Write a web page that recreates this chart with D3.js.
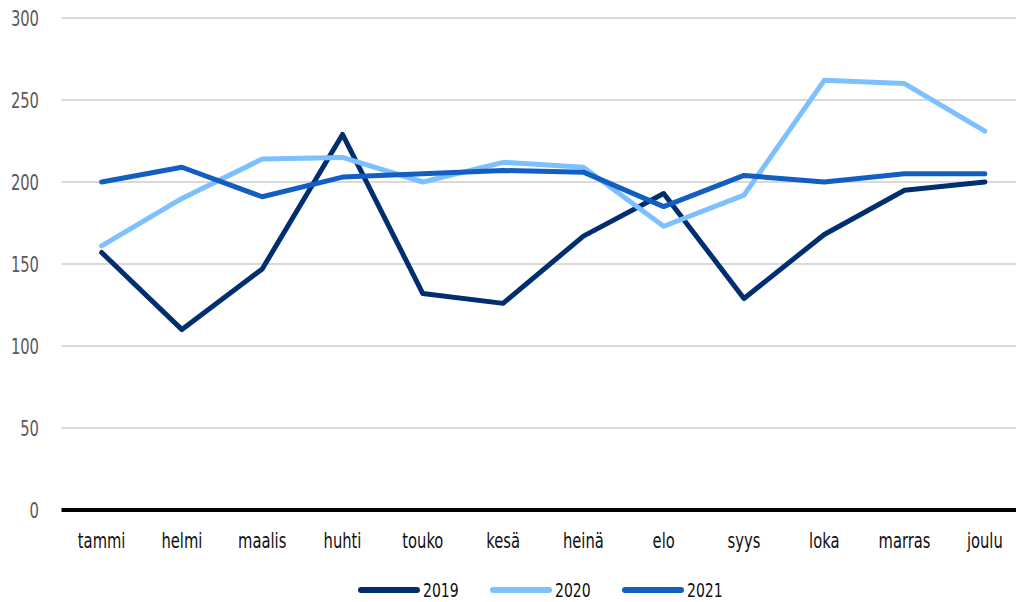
<!DOCTYPE html>
<html>
<head>
<meta charset="utf-8">
<script src="https://cdn.jsdelivr.net/npm/d3@7"></script>
<style>
  html, body { margin: 0; padding: 0; background: #fff; }
  svg { display: block; }
  text { font-family: "DejaVu Sans Condensed", "Liberation Sans Narrow", sans-serif; }
</style>
</head>
<body>
<svg id="chart" width="1016" height="602"></svg>
<script>
// Monthly values per year
const months = ["tammi", "helmi", "maalis", "huhti", "touko", "kesä", "heinä", "elo", "syys", "loka", "marras", "joulu"];
const years = ["2019", "2020", "2021"];
const values2019 = [157, 110, 147, 229, 132, 126, 167, 193, 129, 168, 195, 200];
const values2020 = [161, 190, 214, 215, 200, 212, 209, 173, 192, 262, 260, 231];
const values2021 = [200, 209, 191, 203, 205, 207, 206, 185, 204, 200, 205, 205];
const yTicks = [0, 50, 100, 150, 200, 250, 300];
const colors = ["#002e6e", "#7cc0ff", "#135ec3"];

// horizontal squeeze that gives the labels their condensed look
const squeeze = "scale(0.78,1)";

const series = [values2019, values2020, values2021].map((vals, i) => ({
  name: years[i],
  color: colors[i],
  points: months.map((m, j) => ({ month: m, value: vals[j] }))
}));

const svg = d3.select("#chart");

const x = d3.scaleBand().domain(months).range([61.5, 1025]);
const y = d3.scaleLinear().domain([0, 300]).range([510, 18]);
const cx = m => x(m) + x.bandwidth() / 2;

// Horizontal gridlines
svg.append("g")
  .selectAll("line")
  .data(yTicks.filter(t => t !== 0))
  .join("line")
  .attr("x1", x.range()[0])
  .attr("x2", x.range()[1])
  .attr("y1", d => y(d))
  .attr("y2", d => y(d))
  .attr("stroke", "#d9d9d9")
  .attr("stroke-width", 2);

// Y axis labels
const yAxis = svg.append("g")
  .attr("transform", "translate(39,0)")
  .call(d3.axisLeft(y).tickValues(yTicks).tickSize(0).tickPadding(0));
yAxis.select(".domain").remove();
yAxis.selectAll("text")
  .attr("x", 0)
  .attr("fill", "#595959")
  .style("font-size", "21px")
  .attr("dy", "0.36em")
  .attr("transform", squeeze);

// Zero baseline
svg.append("line")
  .attr("x1", x.range()[0])
  .attr("x2", x.range()[1])
  .attr("y1", y(0))
  .attr("y2", y(0))
  .attr("stroke", "#000")
  .attr("stroke-width", 4);

// X axis labels
const xAxis = svg.append("g")
  .attr("transform", `translate(0,${y(0)})`)
  .call(d3.axisBottom(x).tickSize(0).tickPadding(0));
xAxis.select(".domain").remove();
xAxis.selectAll("text")
  .attr("fill", "#111")
  .attr("y", 38)
  .attr("dy", 0)
  .style("font-size", "21px")
  .attr("transform", squeeze);

// Lines
const line = d3.line()
  .x(d => cx(d.month))
  .y(d => y(d.value));

svg.append("g")
  .selectAll("path")
  .data(series)
  .join("path")
  .attr("d", d => line(d.points))
  .attr("fill", "none")
  .attr("stroke", d => d.color)
  .attr("stroke-width", 5)
  .attr("stroke-linecap", "round")
  .attr("stroke-linejoin", "round");

// Legend
const legend = svg.append("g").attr("transform", "translate(361,590)");
const item = legend.selectAll("g")
  .data(series)
  .join("g")
  .attr("transform", (d, i) => `translate(${i * 132},0)`);
item.append("line")
  .attr("x1", 0).attr("x2", 56)
  .attr("y1", 0).attr("y2", 0)
  .attr("stroke", d => d.color)
  .attr("stroke-width", 6)
  .attr("stroke-linecap", "round");
item.append("g")
  .attr("transform", "translate(62,0)")
  .append("text")
  .attr("x", 0)
  .attr("y", 0)
  .attr("dy", "0.34em")
  .attr("fill", "#111")
  .style("font-size", "20px")
  .attr("transform", squeeze)
  .text(d => d.name);
</script>
</body>
</html>
